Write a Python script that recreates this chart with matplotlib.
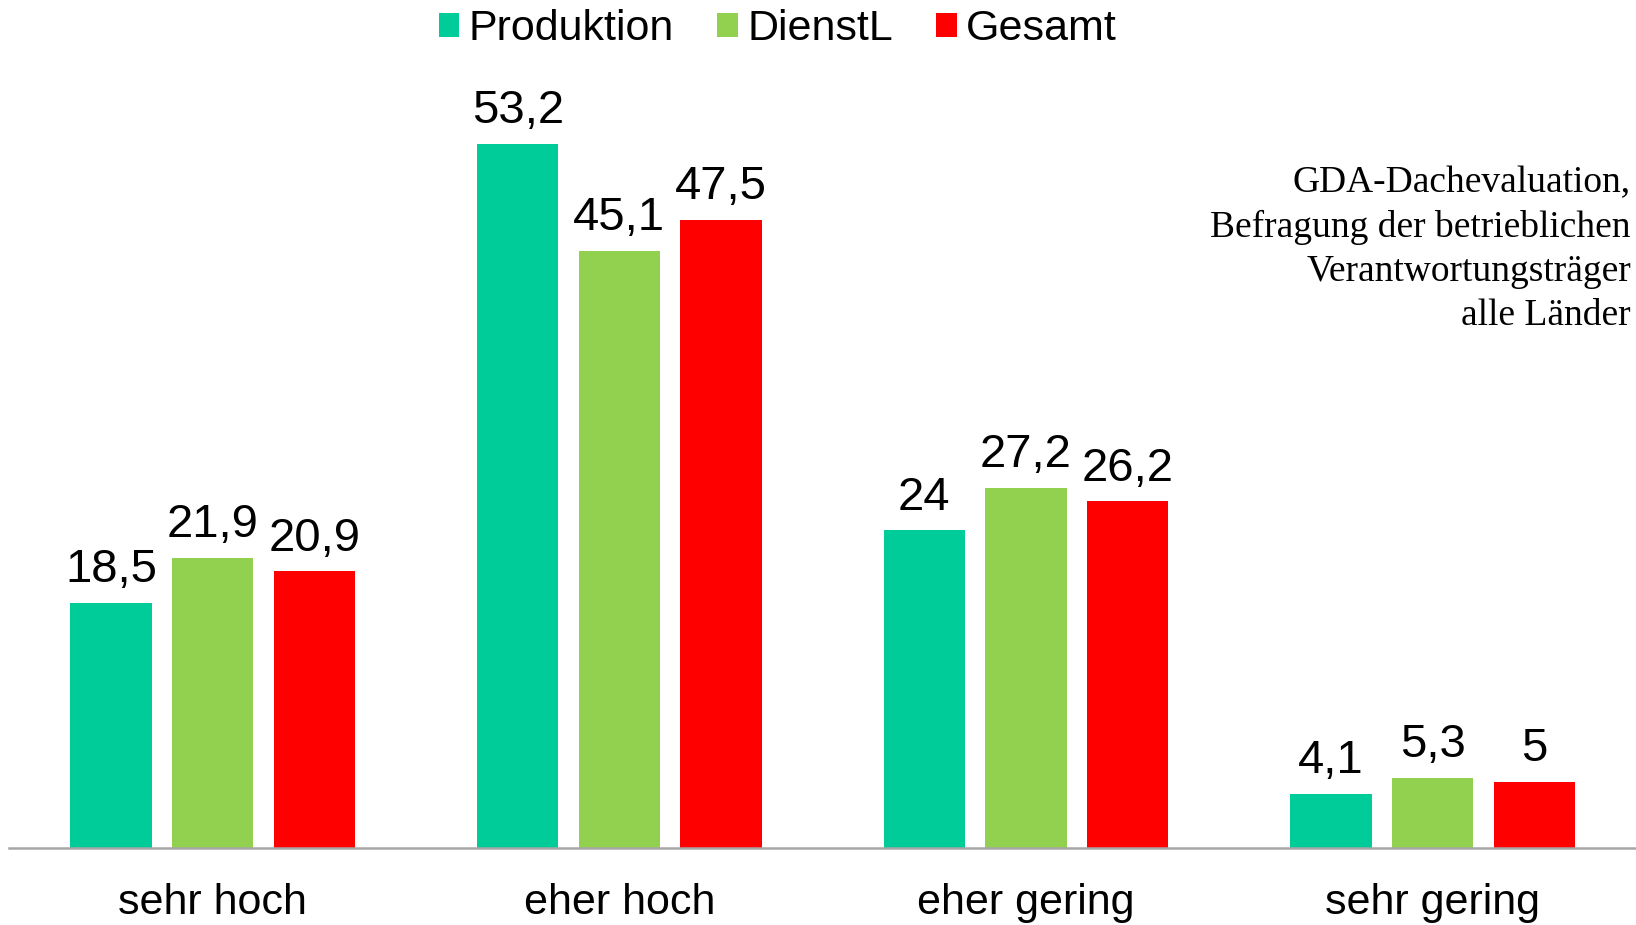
import matplotlib
matplotlib.use("Agg")
import matplotlib.pyplot as plt
from matplotlib import font_manager
from matplotlib.patches import Patch
import numpy as np

categories = ["sehr hoch", "eher hoch", "eher gering", "sehr gering"]
series_names = ["Produktion", "DienstL", "Gesamt"]
produktion = [18.5, 53.2, 24.0, 4.1]
dienstl = [21.9, 45.1, 27.2, 5.3]
gesamt = [20.9, 47.5, 26.2, 5.0]
value_labels = [["18,5", "53,2", "24", "4,1"],
                 ["21,9", "45,1", "27,2", "5,3"],
                 ["20,9", "47,5", "26,2", "5"]]
note_lines = ["GDA-Dachevaluation,", "Befragung der betrieblichen",
              "Verantwortungsträger", "alle Länder"]

colors = ["#00CC99", "#92D050", "#FF0000"]


def pick_font(candidates):
    for name in candidates:
        try:
            font_manager.findfont(name, fallback_to_default=False)
            return name
        except Exception:
            continue
    return "DejaVu Sans"


sans = pick_font(["Liberation Sans", "Arial"])
serif = pick_font(["Liberation Serif", "Times New Roman"])

W, H = 1636, 925
fig = plt.figure(figsize=(W / 100, H / 100), dpi=100)
ax = fig.add_axes([9.4 / W, 1 - 848 / H, 1 - 9.4 / W, 793.8 / H])

x = np.arange(len(categories))
width = 0.2
step = 0.25
all_series = [produktion, dienstl, gesamt]
for i, (vals, col) in enumerate(zip(all_series, colors)):
    pos = x + (i - 1) * step
    ax.bar(pos, vals, width=width, color=col, label=series_names[i])
    for xi, v, lab in zip(pos, vals, value_labels[i]):
        ax.annotate(lab, (xi, v), xytext=(0, 15), textcoords="offset points",
                    ha="center", va="baseline", fontsize=34, family=sans)

ax.set_xlim(-0.5, 3.5)
ax.set_ylim(0, 60)
for s in ["top", "right", "left"]:
    ax.spines[s].set_visible(False)
ax.spines["bottom"].set_color("#A6A6A6")
ax.spines["bottom"].set_linewidth(1.8)
ax.set_yticks([])
ax.set_xticks(x)
ax.set_xticklabels(categories, fontsize=31, family=sans)
ax.tick_params(axis="x", length=0, pad=25)

handles = [Patch(facecolor=c, edgecolor="none") for c in colors]
fig.legend(handles, series_names, loc="center", bbox_to_anchor=(778 / W, 1 - 29 / H),
           ncol=3, frameon=False, prop={"family": sans, "size": 31},
           handlelength=0.48, handleheight=0.48, handletextpad=0.22,
           columnspacing=1.0, borderpad=0, borderaxespad=0)

fig.text(1631 / W, 1 - 166 / H, "\n".join(note_lines), ha="right", va="top",
         fontsize=27, family=serif, linespacing=1.36)

fig.savefig("out.png", dpi=100)
